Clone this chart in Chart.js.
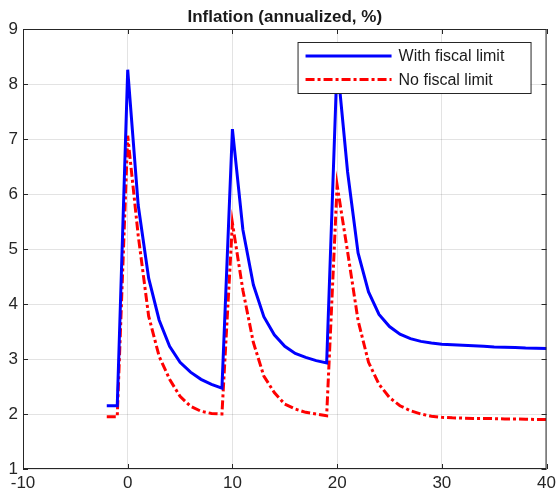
<!DOCTYPE html>
<html>
<head>
<meta charset="utf-8">
<script src="https://cdn.jsdelivr.net/npm/chart.js@4"></script>
<style>
  html, body { margin: 0; padding: 0; background: #fff; }
  #wrap { width: 560px; height: 497px; }
</style>
</head>
<body>
<div id="wrap"><canvas id="infl" width="560" height="497"></canvas></div>
<script>
// quarters relative to the shock
const periods = [-2, -1, 0, 1, 2, 3, 4, 5, 6, 7, 8, 9, 10, 11, 12, 13, 14, 15, 16, 17, 18, 19,
  20, 21, 22, 23, 24, 25, 26, 27, 28, 29, 30, 31, 32, 33, 34, 35, 36, 37, 38, 39, 40];

const withLimit = [2.15, 2.15, 8.26, 5.80, 4.47, 3.71, 3.23, 2.94, 2.76, 2.63, 2.54, 2.47,
  7.18, 5.35, 4.35, 3.77, 3.44, 3.23, 3.10, 3.03, 2.97, 2.93,
  8.40, 6.40, 4.93, 4.22, 3.81, 3.59, 3.45, 3.37, 3.32, 3.29,
  3.27, 3.26, 3.25, 3.24, 3.23, 3.22, 3.215, 3.21, 3.20, 3.195, 3.19];

const noLimit = [1.95, 1.95, 7.06, 5.25, 3.78, 3.05, 2.63, 2.32, 2.14, 2.05, 2.01, 2.00,
  5.47, 4.25, 3.30, 2.69, 2.39, 2.18, 2.09, 2.03, 2.00, 1.97,
  6.16, 4.95, 3.70, 2.94, 2.54, 2.30, 2.15, 2.06, 2.00, 1.96,
  1.94, 1.93, 1.925, 1.92, 1.92, 1.915, 1.91, 1.91, 1.905, 1.90, 1.90];

const seriesNames = ['With fiscal limit', 'No fiscal limit'];
const chartTitle = 'Inflation (annualized, %)';

const FONT = '"Liberation Sans", Arial, Helvetica, sans-serif';

function toPoints(vals) {
  return periods.map((p, i) => ({ x: p, y: vals[i] }));
}

// title, box with inward ticks (matlab look), legend inside the axes
const matlabBits = {
  id: 'matlabBits',
  afterDraw(chart) {
    const c = chart.ctx;
    const a = chart.chartArea;
    const sx = chart.scales.x, sy = chart.scales.y;
    c.save();

    // title
    c.fillStyle = '#1a1a1a';
    c.font = 'bold 17px ' + FONT;
    c.textAlign = 'center';
    c.textBaseline = 'alphabetic';
    c.fillText(chartTitle, (a.left + a.right) / 2, 22);

    // box
    c.strokeStyle = '#262626';
    c.lineWidth = 1;
    c.strokeRect(a.left + 0.5, a.top + 0.5, a.right - a.left - 1, a.bottom - a.top - 1);

    // inward ticks
    const tl = 5;
    c.beginPath();
    sx.ticks.forEach(t => {
      const px = Math.round(sx.getPixelForValue(t.value)) + 0.5;
      c.moveTo(px, a.bottom); c.lineTo(px, a.bottom - tl);
      c.moveTo(px, a.top); c.lineTo(px, a.top + tl);
    });
    sy.ticks.forEach(t => {
      const py = Math.round(sy.getPixelForValue(t.value)) + 0.5;
      c.moveTo(a.left, py); c.lineTo(a.left + tl, py);
      c.moveTo(a.right, py); c.lineTo(a.right - tl, py);
    });
    c.stroke();

    // legend
    const bw = 233, bh = 51;
    const bx = a.right - 16 - bw, by = a.top + 13;
    c.fillStyle = '#fff';
    c.fillRect(bx, by, bw, bh);
    c.strokeStyle = '#262626';
    c.strokeRect(bx + 0.5, by + 0.5, bw, bh);
    c.font = '16px ' + FONT;
    c.textAlign = 'left';
    c.textBaseline = 'middle';
    chart.data.datasets.forEach((ds, i) => {
      const ly = by + 14 + i * 23.5;
      c.strokeStyle = ds.borderColor;
      c.lineWidth = ds.borderWidth;
      c.setLineDash(ds.borderDash || []);
      c.beginPath();
      c.moveTo(bx + 8, ly);
      c.lineTo(bx + 94, ly);
      c.stroke();
      c.setLineDash([]);
      c.fillStyle = '#1a1a1a';
      c.fillText(ds.label, bx + 101, ly + 1);
    });
    c.restore();
  }
};

const ctx = document.getElementById('infl');

new Chart(ctx, {
  type: 'line',
  data: {
    datasets: [{
      label: seriesNames[0],
      data: toPoints(withLimit),
      borderColor: '#0000ff',
      borderWidth: 3,
      pointRadius: 0,
      tension: 0,
      fill: false
    }, {
      label: seriesNames[1],
      data: toPoints(noLimit),
      borderColor: '#ff0000',
      borderWidth: 3,
      borderDash: [9, 3, 3, 3],
      pointRadius: 0,
      tension: 0,
      fill: false
    }]
  },
  options: {
    responsive: false,
    animation: false,
    devicePixelRatio: 1,
    layout: { padding: { top: 29, right: 12, left: 0, bottom: 0 } },
    plugins: {
      legend: { display: false },
      title: { display: false },
      tooltip: { enabled: false }
    },
    scales: {
      x: {
        type: 'linear',
        min: -10,
        max: 40,
        ticks: { stepSize: 10, color: '#262626', font: { family: FONT, size: 17 }, padding: 4, maxRotation: 0 },
        grid: { color: 'rgba(0,0,0,0.11)', drawTicks: false },
        border: { display: false },
        afterFit: s => { s.height = 28; }
      },
      y: {
        min: 1,
        max: 9,
        ticks: { stepSize: 1, color: '#262626', font: { family: FONT, size: 17 }, padding: 5 },
        grid: { color: 'rgba(0,0,0,0.11)', drawTicks: false },
        border: { display: false },
        afterFit: s => { s.width = 23; }
      }
    }
  },
  plugins: [matlabBits]
});
</script>
</body>
</html>
